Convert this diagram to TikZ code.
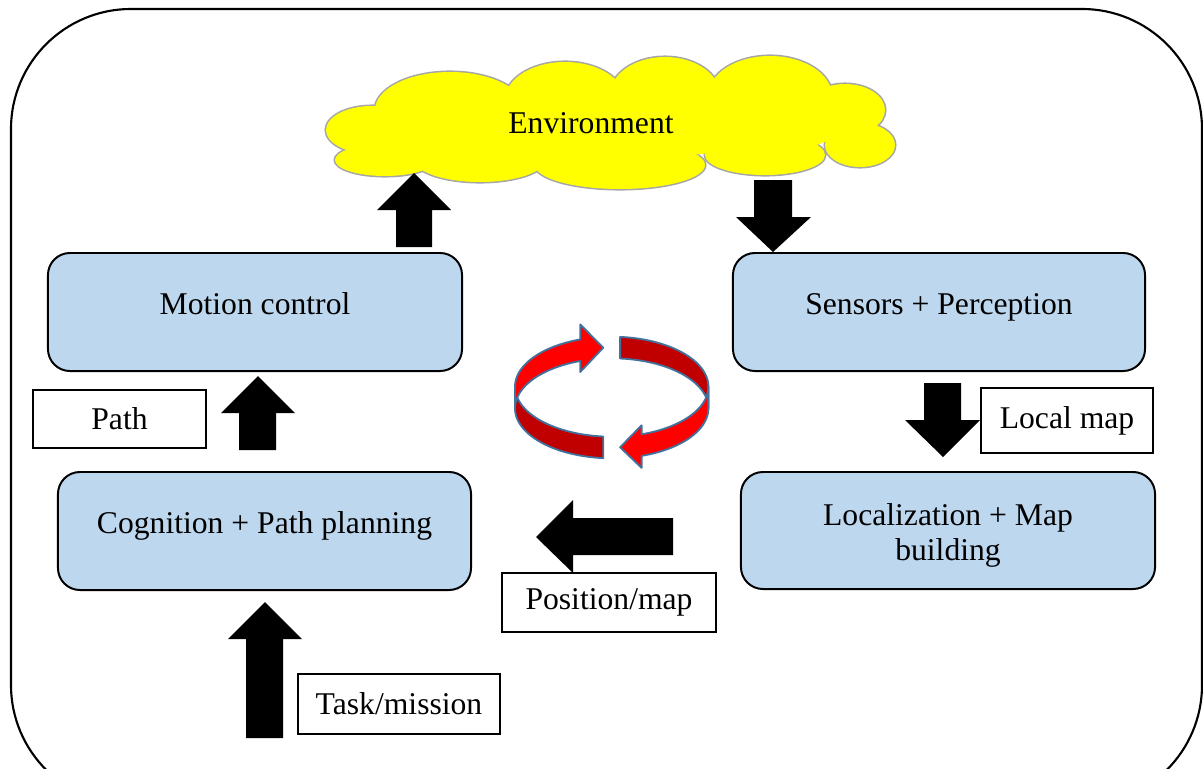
\documentclass[tikz,border=0pt]{standalone}
\usepackage{fontspec}
\setmainfont{Liberation Serif}
\definecolor{boxblue}{HTML}{BDD7EE}
\definecolor{cloudfill}{HTML}{FFFF00}
\definecolor{ringred}{HTML}{FF0000}
\definecolor{ringdark}{HTML}{C00000}
\definecolor{ringline}{HTML}{41719C}
\definecolor{cloudline}{HTML}{A6A6A6}
\begin{document}
\begin{tikzpicture}[x=0.025cm,y=-0.025cm,
  every node/.style={font=\fontsize{22.5}{25}\selectfont},
  stage/.style={draw=black,line width=1.4pt,fill=boxblue,rounded corners=0.55cm,
    minimum height=2.95cm,text height=15pt,text depth=11pt,align=center},
  tag/.style={draw=black,line width=1.3pt,fill=white,minimum height=1.45cm},
  blockarrow/.style={fill=black},
  ringfront/.style={fill=ringred,draw=ringline,line width=1.3pt,line join=round},
  ringback/.style={fill=ringdark,draw=ringline,line width=1.3pt,line join=round},
  lobe/.style={fill=cloudfill}]
\useasboundingbox (0,0) rectangle (1203,769);
\clip (0,0) rectangle (1203,769);

% outer frame
\draw[line width=1.5pt,rounded corners=3cm] (11,9) rectangle (1202,805);

% environment cloud: outline of every lobe first, then the yellow fill over it
\def\lobes{372/130/46/24, 385/160/50/16, 450/110/75/38,
    565/100/60/38, 665/95/55/38, 770/96/62/40, 845/110/40/26, 860/145/35/22,
    765/155/60/20, 620/165/85/24, 480/160/65/22}
\foreach \cx/\cy/\rx/\ry in \lobes
  \draw[cloudline,line width=2.2pt] (\cx,\cy) ellipse[x radius=\rx, y radius=\ry];
\foreach \cx/\cy/\rx/\ry in \lobes
  \fill[lobe] (\cx,\cy) ellipse[x radius=\rx, y radius=\ry];
% inner fillers that close the gaps between lobes
\foreach \cx/\cy/\rx/\ry in {611/125/190/33, 420/150/30/10, 800/135/30/12}
  \fill[lobe] (\cx,\cy) ellipse[x radius=\rx, y radius=\ry];
\node (env) at (591,123) {Environment};

% stages of the loop
\node[stage,minimum width=10.35cm] (motion) at (255,312) {Motion control};
\node[stage,minimum width=10.3cm]  (sense)  at (939,312) {Sensors + Perception};
\node[stage,minimum width=10.325cm] (plan)  at (264.5,531) {Cognition + Path planning};
\node[stage,minimum width=10.35cm,minimum height=2.925cm] (local) at (948,530.5) {};
\node[align=center] (localtext) at (948,535.5) {Localization + Map\\building};

% data labels
\node[tag,minimum width=4.325cm] (path) at (119.5,419) {Path};
\node[tag,minimum width=4.3cm,minimum height=1.625cm] (lmap) at (1067,420.5) {Local map};
\node[tag,minimum width=5.35cm,minimum height=1.475cm] (pmap) at (609,602.5) {Position/map};
\node[tag,minimum width=5.05cm,minimum height=1.5cm] (task) at (399,704) {Task/mission};

% block arrows
\fill[blockarrow] (396,247) -- (396,210) -- (377,210) -- (414,173) -- (451,210) -- (432,210) -- (432,247) -- cycle;
\fill[blockarrow] (754,180) -- (754,217) -- (736,217) -- (773,252) -- (811,217) -- (792,217) -- (792,180) -- cycle;
\fill[blockarrow] (239,450) -- (239,413) -- (221,413) -- (258,376) -- (295,413) -- (276,413) -- (276,450) -- cycle;
\fill[blockarrow] (924,383) -- (924,420) -- (905,420) -- (943,457) -- (980,420) -- (961,420) -- (961,383) -- cycle;
\fill[blockarrow] (673,518) -- (573,518) -- (573,500) -- (536,537) -- (573,573) -- (573,555) -- (673,555) -- cycle;
\fill[blockarrow] (246,738) -- (246,639) -- (228,639) -- (265,602) -- (302,639) -- (283,639) -- (283,738) -- cycle;

% circular arrows: a ribbon between two stacked ellipses
\def\ccx{611.7}\def\cya{386.7}\def\cyb{408.3}\def\cyc{397.5}\def\ra{96.7}\def\rb{50}
\filldraw[ringback] plot[domain=85:0,samples=40,variable=\t] ({\ccx+\ra*cos(\t)},{\cya-\rb*sin(\t)})
  -- plot[domain=0:85,samples=40,variable=\t] ({\ccx+\ra*cos(\t)},{\cyb-\rb*sin(\t)}) -- cycle;
\filldraw[ringback] plot[domain=-95:-180,samples=40,variable=\t] ({\ccx+\ra*cos(\t)},{\cya-\rb*sin(\t)})
  -- plot[domain=-180:-95,samples=40,variable=\t] ({\ccx+\ra*cos(\t)},{\cyb-\rb*sin(\t)}) -- cycle;
\filldraw[ringfront] plot[domain=180:109,samples=40,variable=\t] ({\ccx+\ra*cos(\t)},{\cya-\rb*sin(\t)})
  -- ({\ccx+\ra*cos(109)},{\cya-\rb*sin(109)-15})
  -- ({\ccx+\ra*cos(95)},{\cyc-\rb*sin(95)})
  -- ({\ccx+\ra*cos(109)},{\cyb-\rb*sin(109)+11})
  -- plot[domain=109:180,samples=40,variable=\t] ({\ccx+\ra*cos(\t)},{\cyb-\rb*sin(\t)}) -- cycle;
\filldraw[ringfront] plot[domain=0:-72,samples=40,variable=\t] ({\ccx+\ra*cos(\t)},{\cya-\rb*sin(\t)})
  -- ({\ccx+\ra*cos(-72)},{\cya-\rb*sin(-72)-9})
  -- ({\ccx+\ra*cos(-85)},{\cyc-\rb*sin(-85)})
  -- ({\ccx+\ra*cos(-72)},{\cyb-\rb*sin(-72)+12})
  -- plot[domain=-72:0,samples=40,variable=\t] ({\ccx+\ra*cos(\t)},{\cyb-\rb*sin(\t)}) -- cycle;
\end{tikzpicture}
\end{document}
